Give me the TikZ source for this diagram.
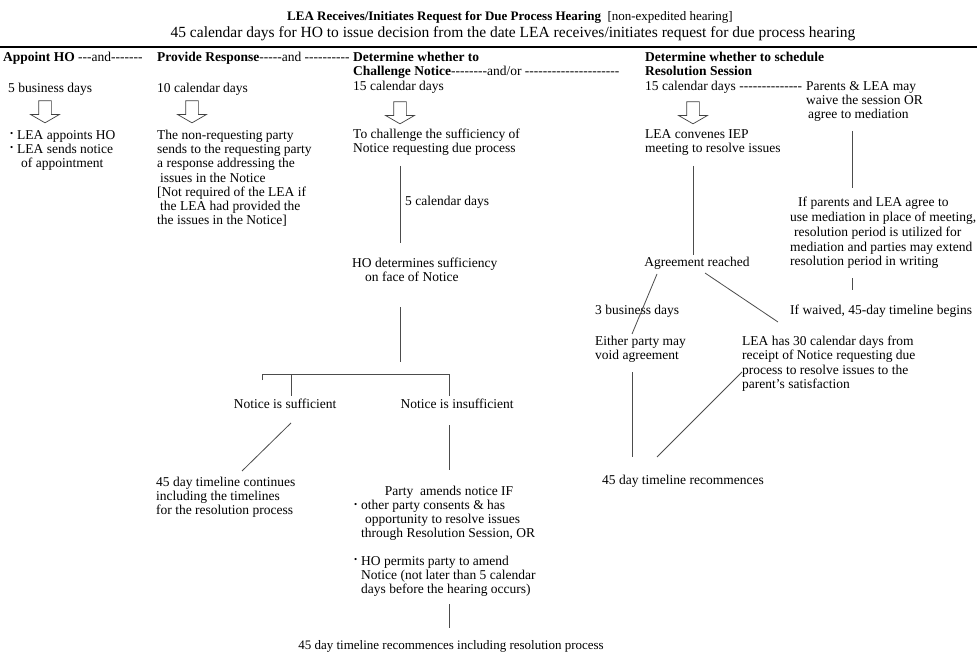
\documentclass[tikz,border=0pt]{standalone}
\usepackage{fontspec}
\setmainfont{Liberation Serif}[Ligatures=TeXOff]
\usetikzlibrary{shapes.arrows}

\newcommand\bodyfont{\fontsize{13.5}{14.2}\selectfont}
\newcommand\dotmark{\makebox[7pt][l]{\raisebox{0.4ex}{\fontsize{9}{9}\selectfont\textbullet}}}

\begin{document}
\begin{tikzpicture}[x=1pt, y=-1pt, font=\bodyfont,
  txt/.style={anchor=north west, inner sep=0pt, align=left},
  mid/.style={anchor=center, inner sep=0pt, align=center},
  link/.style={draw=black!70, line width=0.8pt},
  hollow/.style={single arrow, draw=black!75, line width=0.7pt, shape border rotate=270,
    minimum height=22pt, minimum width=28pt, single arrow head extend=8pt,
    single arrow tip angle=120, inner xsep=6pt, inner ysep=0pt}]
  \useasboundingbox[fill=white] (0,0) rectangle (977,663);

  % title
  \node[mid] (title) at (510,17) {\fontsize{13}{15}\selectfont\textbf{LEA Receives/Initiates Request for Due Process Hearing}\ \ [non-expedited hearing]};
  \node[mid] (subtitle) at (513,34) {\fontsize{15.5}{17}\selectfont 45 calendar days for HO to issue decision from the date LEA receives/initiates request for due process hearing};
  \coordinate (ruleL) at (0,47);
  \coordinate (ruleR) at (977,47);
  \draw[line width=2pt] (ruleL) -- (ruleR);

  % headings
  \node[txt] (hdAppoint) at (3,52) {\textbf{Appoint HO} ---and-------};
  \node[txt] (hdResponse) at (157,52) {\textbf{Provide Response}-----and ----------};
  \node[txt] (hdChallenge) at (353,52) {\textbf{Determine whether to}\\\textbf{Challenge Notice}--------and/or ---------------------};
  \node[txt] (hdSession) at (645,52) {\textbf{Determine whether to schedule}\\\textbf{Resolution Session}};

  \node[txt] (daysAppoint) at (8,83) {5 business days};
  \node[txt] (daysResponse) at (157,83) {10 calendar days};
  \node[txt] (daysChallenge) at (353,81) {15 calendar days};
  \node[txt] (daysSession) at (645,81) {15 calendar days --------------};
  \node[txt] (waive) at (806,81) {Parents \& LEA may\\waive the session OR\\\hspace{2pt}agree to mediation};

  \node[hollow] (arrAppoint) at (45,110) {};
  \node[hollow] (arrResponse) at (192,110) {};
  \node[hollow] (arrChallenge) at (400,111) {};
  \node[hollow] (arrSession) at (693,111) {};

  % column 1 and 2
  \node[txt] (appoint) at (10,130) {\dotmark LEA appoints HO\\\dotmark LEA sends notice\\\hspace{11pt}of appointment};
  \node[txt] (response) at (157,130) {The non-requesting party\\sends to the requesting party\\a response addressing the\\\hspace{3pt}issues in the Notice\\{[}Not required of the LEA if\\\hspace{3pt}the LEA had provided the\\the issues in the Notice{]}};

  % column 3
  \node[txt] (challenge) at (353,129) {To challenge the sufficiency of\\Notice requesting due process};
  \node[txt] (fiveDays) at (405,196) {5 calendar days};
  \node[txt] (hoDecides) at (352,258) {HO determines sufficiency\\\hspace{13pt}on face of Notice};
  \node[mid] (sufficient) at (285,404) {Notice is sufficient};
  \node[mid] (insufficient) at (457,404) {Notice is insufficient};
  \node[txt] (continues) at (156,477) {45 day timeline continues\\including the timelines\\for the resolution process};
  \node[inner sep=0pt, anchor=north] (amends) at (449,486) {Party\ \ amends notice IF};
  \node[txt] (amendIf) at (354,500) {\dotmark other party consents \& has\\\hspace{11pt}opportunity to resolve issues\\\hspace{7pt}through Resolution Session, OR\\[13pt]\dotmark HO permits party to amend\\\hspace{7pt}Notice (not later than 5 calendar\\\hspace{7pt}days before the hearing occurs)};
  \node[mid] (recommence) at (451,646) {\fontsize{13}{14}\selectfont 45 day timeline recommences including resolution process};

  \coordinate (c1) at (400,166);  \coordinate (c2) at (400,243);
  \coordinate (c3) at (400,307);  \coordinate (c4) at (400,362);
  \coordinate (forkL) at (262,374); \coordinate (forkR) at (449,374);
  \coordinate (tickL) at (262,380); \coordinate (forkS) at (291,374);
  \coordinate (sufTop) at (291,396); \coordinate (insTop) at (449,396);
  \coordinate (c5) at (291,423);  \coordinate (c6) at (242,471);
  \coordinate (c7) at (449,425);  \coordinate (c8) at (449,470);
  \coordinate (c9) at (449,604);  \coordinate (c10) at (449,628);
  \draw[link] (c1) -- (c2);
  \draw[link] (c3) -- (c4);
  \draw[link] (tickL) -- (forkL) -- (forkR) -- (insTop);
  \draw[link] (forkS) -- (sufTop);
  \draw[link] (c5) -- (c6);
  \draw[link] (c7) -- (c8);
  \draw[link] (c9) -- (c10);

  % column 4
  \node[txt] (convene) at (645,129) {LEA convenes IEP\\meeting to resolve issues};
  \node[txt, font=\fontsize{13.5}{14.8}\selectfont] (ifMediation) at (790,197) {\hspace{8pt}If parents and LEA agree to\\use mediation in place of meeting,\\\hspace{4pt}resolution period is utilized for\\mediation and parties may extend\\resolution period in writing};
  \node[mid] (agreement) at (697,263) {Agreement reached};
  \node[txt] (threeDays) at (595,305) {3 business days};
  \node[txt] (waived) at (790,305) {If waived, 45-day timeline begins};
  \node[txt] (voidAgr) at (595,336) {Either party may\\void agreement};
  \node[txt] (thirtyDays) at (742,336) {LEA has 30 calendar days from\\receipt of Notice requesting due\\process to resolve issues to the\\parent’s satisfaction};
  \node[txt] (recommenceB) at (602,475) {45 day timeline recommences};

  \coordinate (d1) at (693,166);  \coordinate (d2) at (693,255);
  \coordinate (d3) at (852,131);  \coordinate (d4) at (852,188);
  \coordinate (d5) at (852,278);  \coordinate (d6) at (852,290);
  \coordinate (d7) at (657,274);  \coordinate (d8) at (632,334);
  \coordinate (d9) at (705,273);  \coordinate (d10) at (778,322);
  \coordinate (d11) at (632,372); \coordinate (d12) at (632,457);
  \coordinate (d13) at (657,457); \coordinate (d14) at (742,372);
  \draw[link] (d1) -- (d2);
  \draw[link] (d3) -- (d4);
  \draw[link] (d5) -- (d6);
  \draw[link] (d7) -- (d8);
  \draw[link] (d9) -- (d10);
  \draw[link] (d11) -- (d12);
  \draw[link] (d13) -- (d14);
\end{tikzpicture}
\end{document}
